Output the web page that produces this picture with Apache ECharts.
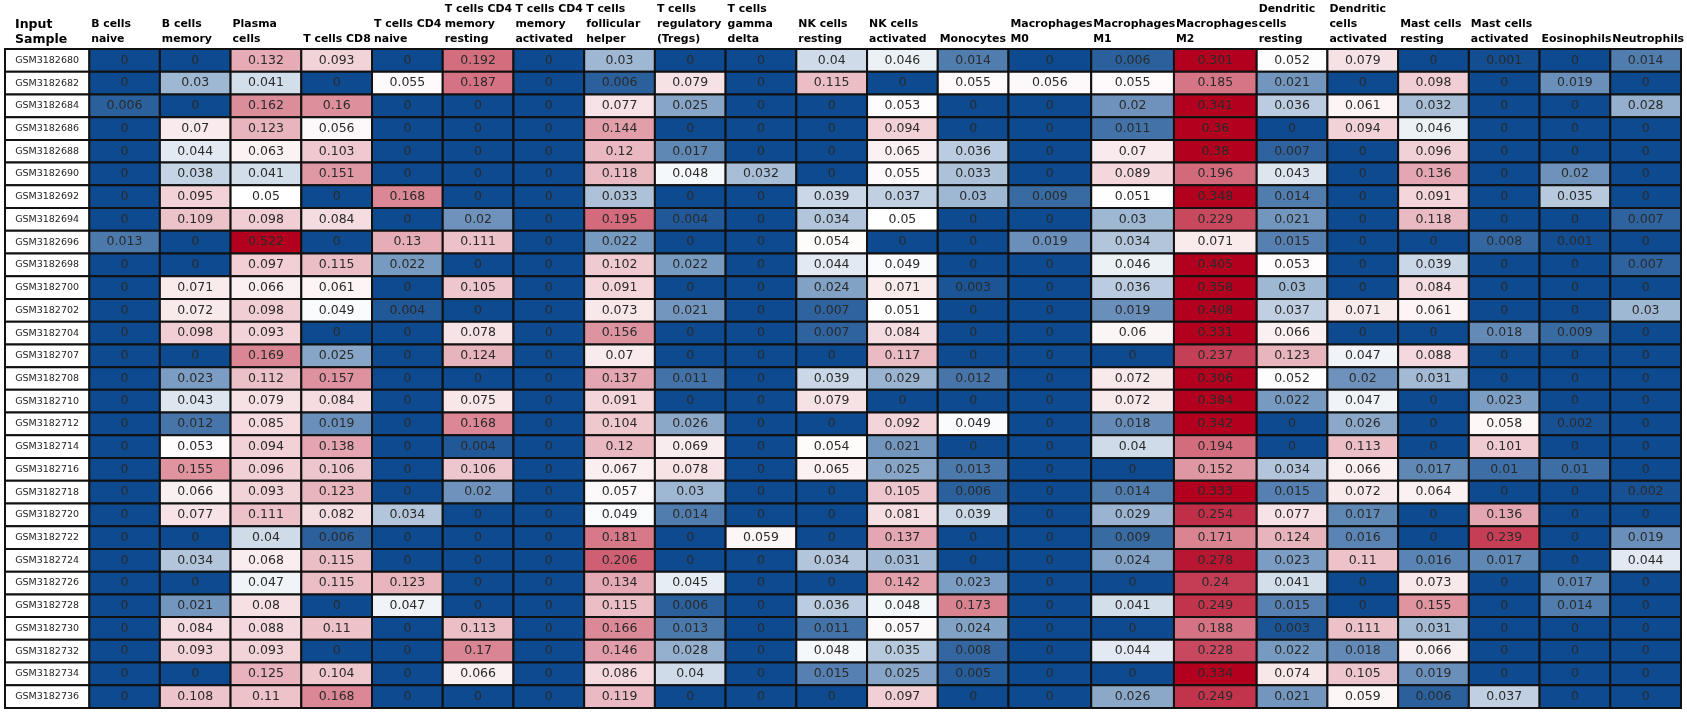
<!DOCTYPE html>
<html>
<head>
<meta charset="utf-8">
<script src="https://cdn.jsdelivr.net/npm/echarts@6/dist/echarts.min.js"></script>
<style>
html,body{margin:0;padding:0;background:#fff;}
#chart{width:1687px;height:714px;}
</style>
</head>
<body>
<div id="chart"></div>
<script>
const labelHeader = 'Input\nSample';
const cellTypes = [
  'B cells\nnaive','B cells\nmemory','Plasma\ncells','T cells CD8','T cells CD4\nnaive',
  'T cells CD4\nmemory\nresting','T cells CD4\nmemory\nactivated','T cells\nfollicular\nhelper',
  'T cells\nregulatory\n(Tregs)','T cells\ngamma\ndelta','NK cells\nresting','NK cells\nactivated',
  'Monocytes','Macrophages\nM0','Macrophages\nM1','Macrophages\nM2','Dendritic\ncells\nresting',
  'Dendritic\ncells\nactivated','Mast cells\nresting','Mast cells\nactivated','Eosinophils','Neutrophils'
];
const samples = [
  'GSM3182680','GSM3182682','GSM3182684','GSM3182686','GSM3182688','GSM3182690','GSM3182692',
  'GSM3182694','GSM3182696','GSM3182698','GSM3182700','GSM3182702','GSM3182704','GSM3182707',
  'GSM3182708','GSM3182710','GSM3182712','GSM3182714','GSM3182716','GSM3182718','GSM3182720',
  'GSM3182722','GSM3182724','GSM3182726','GSM3182728','GSM3182730','GSM3182732','GSM3182734','GSM3182736'
];
// one row per sample, columns in cellTypes order
const values = [
  [0,0,0.132,0.093,0,0.192,0,0.03,0,0,0.04,0.046,0.014,0,0.006,0.301,0.052,0.079,0,0.001,0,0.014],
  [0,0.03,0.041,0,0.055,0.187,0,0.006,0.079,0,0.115,0,0.055,0.056,0.055,0.185,0.021,0,0.098,0,0.019,0],
  [0.006,0,0.162,0.16,0,0,0,0.077,0.025,0,0,0.053,0,0,0.02,0.341,0.036,0.061,0.032,0,0,0.028],
  [0,0.07,0.123,0.056,0,0,0,0.144,0,0,0,0.094,0,0,0.011,0.36,0,0.094,0.046,0,0,0],
  [0,0.044,0.063,0.103,0,0,0,0.12,0.017,0,0,0.065,0.036,0,0.07,0.38,0.007,0,0.096,0,0,0],
  [0,0.038,0.041,0.151,0,0,0,0.118,0.048,0.032,0,0.055,0.033,0,0.089,0.196,0.043,0,0.136,0,0.02,0],
  [0,0.095,0.05,0,0.168,0,0,0.033,0,0,0.039,0.037,0.03,0.009,0.051,0.348,0.014,0,0.091,0,0.035,0],
  [0,0.109,0.098,0.084,0,0.02,0,0.195,0.004,0,0.034,0.05,0,0,0.03,0.229,0.021,0,0.118,0,0,0.007],
  [0.013,0,0.522,0,0.13,0.111,0,0.022,0,0,0.054,0,0,0.019,0.034,0.071,0.015,0,0,0.008,0.001,0],
  [0,0,0.097,0.115,0.022,0,0,0.102,0.022,0,0.044,0.049,0,0,0.046,0.405,0.053,0,0.039,0,0,0.007],
  [0,0.071,0.066,0.061,0,0.105,0,0.091,0,0,0.024,0.071,0.003,0,0.036,0.358,0.03,0,0.084,0,0,0],
  [0,0.072,0.098,0.049,0.004,0,0,0.073,0.021,0,0.007,0.051,0,0,0.019,0.408,0.037,0.071,0.061,0,0,0.03],
  [0,0.098,0.093,0,0,0.078,0,0.156,0,0,0.007,0.084,0,0,0.06,0.331,0.066,0,0,0.018,0.009,0],
  [0,0,0.169,0.025,0,0.124,0,0.07,0,0,0,0.117,0,0,0,0.237,0.123,0.047,0.088,0,0,0],
  [0,0.023,0.112,0.157,0,0,0,0.137,0.011,0,0.039,0.029,0.012,0,0.072,0.306,0.052,0.02,0.031,0,0,0],
  [0,0.043,0.079,0.084,0,0.075,0,0.091,0,0,0.079,0,0,0,0.072,0.384,0.022,0.047,0,0.023,0,0],
  [0,0.012,0.085,0.019,0,0.168,0,0.104,0.026,0,0,0.092,0.049,0,0.018,0.342,0,0.026,0,0.058,0.002,0],
  [0,0.053,0.094,0.138,0,0.004,0,0.12,0.069,0,0.054,0.021,0,0,0.04,0.194,0,0.113,0,0.101,0,0],
  [0,0.155,0.096,0.106,0,0.106,0,0.067,0.078,0,0.065,0.025,0.013,0,0,0.152,0.034,0.066,0.017,0.01,0.01,0],
  [0,0.066,0.093,0.123,0,0.02,0,0.057,0.03,0,0,0.105,0.006,0,0.014,0.333,0.015,0.072,0.064,0,0,0.002],
  [0,0.077,0.111,0.082,0.034,0,0,0.049,0.014,0,0,0.081,0.039,0,0.029,0.254,0.077,0.017,0,0.136,0,0],
  [0,0,0.04,0.006,0,0,0,0.181,0,0.059,0,0.137,0,0,0.009,0.171,0.124,0.016,0,0.239,0,0.019],
  [0,0.034,0.068,0.115,0,0,0,0.206,0,0,0.034,0.031,0,0,0.024,0.278,0.023,0.11,0.016,0.017,0,0.044],
  [0,0,0.047,0.115,0.123,0,0,0.134,0.045,0,0,0.142,0.023,0,0,0.24,0.041,0,0.073,0,0.017,0],
  [0,0.021,0.08,0,0.047,0,0,0.115,0.006,0,0.036,0.048,0.173,0,0.041,0.249,0.015,0,0.155,0,0.014,0],
  [0,0.084,0.088,0.11,0,0.113,0,0.166,0.013,0,0.011,0.057,0.024,0,0,0.188,0.003,0.111,0.031,0,0,0],
  [0,0.093,0.093,0,0,0.17,0,0.146,0.028,0,0.048,0.035,0.008,0,0.044,0.228,0.022,0.018,0.066,0,0,0],
  [0,0,0.125,0.104,0,0.066,0,0.086,0.04,0,0.015,0.025,0.005,0,0,0.334,0.074,0.105,0.019,0,0,0],
  [0,0.108,0.11,0.168,0,0,0,0.119,0,0,0,0.097,0,0,0.026,0.249,0.021,0.059,0.006,0.037,0,0]
];

// ---- layout (column widths in relative units) ----
const widths = [1.19].concat(cellTypes.map(c => c.startsWith('Macrophages') ? 1.17 : 1));
const colStart = [];
let acc = 0;
widths.forEach(w => { colStart.push(acc); acc += w; });
const totalUnits = acc;

const FONT = 'DejaVu Sans';
function mix(a, b, t) {
  return 'rgb(' + a.map((v, i) => Math.round(v + (b[i] - v) * t)).join(',') + ')';
}
const BLUE = [13, 74, 143], WHITE = [255, 255, 255], RED = [178, 0, 30];
const scaleColors = [mix(BLUE, BLUE, 0), mix(WHITE, WHITE, 0)]
  .concat([0.2, 0.4, 0.6, 0.8, 1].map(t => mix(WHITE, RED, t)));

const cellData = [];
values.forEach((row, r) => row.forEach((v, c) => cellData.push([c, r, v])));

function cellRect(api, col, r) {
  const x0 = api.coord([colStart[col], r])[0];
  const x1 = api.coord([colStart[col] + widths[col], r])[0];
  const yc = api.coord([0, r])[1];
  const h = api.size([0, 1])[1];
  return { x: x0, y: yc - h / 2, width: x1 - x0, height: h };
}

const chart = echarts.init(document.getElementById('chart'), null, { renderer: 'canvas' });
chart.setOption({
  animation: false,
  backgroundColor: '#fff',
  grid: { left: 5, right: 6, top: 49, bottom: 6 },
  xAxis: { type: 'value', min: 0, max: totalUnits, show: false },
  yAxis: { type: 'category', data: samples, inverse: true, show: false },
  visualMap: {
    show: false, type: 'continuous', min: 0, max: 0.3, dimension: 2, seriesIndex: 0,
    inRange: { color: scaleColors }
  },
  series: [
    {
      type: 'custom', name: 'cells', coordinateSystem: 'cartesian2d', clip: false,
      encode: { x: 0, y: 1 },
      data: cellData,
      renderItem: function (params, api) {
        const c = api.value(0), r = api.value(1), v = api.value(2);
        return {
          type: 'rect',
          shape: cellRect(api, c + 1, r),
          style: { fill: api.visual('color'), stroke: '#111', lineWidth: 2 },
          textContent: {
            style: { text: String(v), fill: '#2a2a2a', fontFamily: FONT, fontSize: 12.5 }
          },
          textConfig: { position: 'inside' }
        };
      }
    },
    {
      type: 'custom', name: 'samples', coordinateSystem: 'cartesian2d', clip: false,
      encode: { x: 0, y: 1 },
      data: samples.map((s, r) => [0, r]),
      renderItem: function (params, api) {
        const r = api.value(1);
        return {
          type: 'rect',
          shape: cellRect(api, 0, r),
          style: { fill: '#fff', stroke: '#111', lineWidth: 2 },
          textContent: {
            style: { text: samples[r], fill: '#222', fontFamily: FONT, fontSize: 9.5 }
          },
          textConfig: { position: 'inside' }
        };
      }
    },
    {
      type: 'custom', name: 'headers', coordinateSystem: 'cartesian2d', clip: false,
      encode: { x: 0, y: 1 },
      data: [labelHeader].concat(cellTypes).map((h, i) => [i, 0]),
      renderItem: function (params, api) {
        const i = api.value(0);
        const rect = cellRect(api, i, 0);
        const isLabel = i === 0;
        return {
          type: 'text',
          x: rect.x + (isLabel ? 10 : 2),
          y: rect.y - 2,
          style: {
            text: isLabel ? labelHeader : cellTypes[i - 1],
            fill: '#000',
            fontFamily: FONT,
            fontWeight: 'bold',
            fontSize: isLabel ? 12.5 : 10.9,
            lineHeight: 15,
            align: 'left',
            verticalAlign: 'bottom'
          }
        };
      }
    }
  ]
});
</script>
</body>
</html>
